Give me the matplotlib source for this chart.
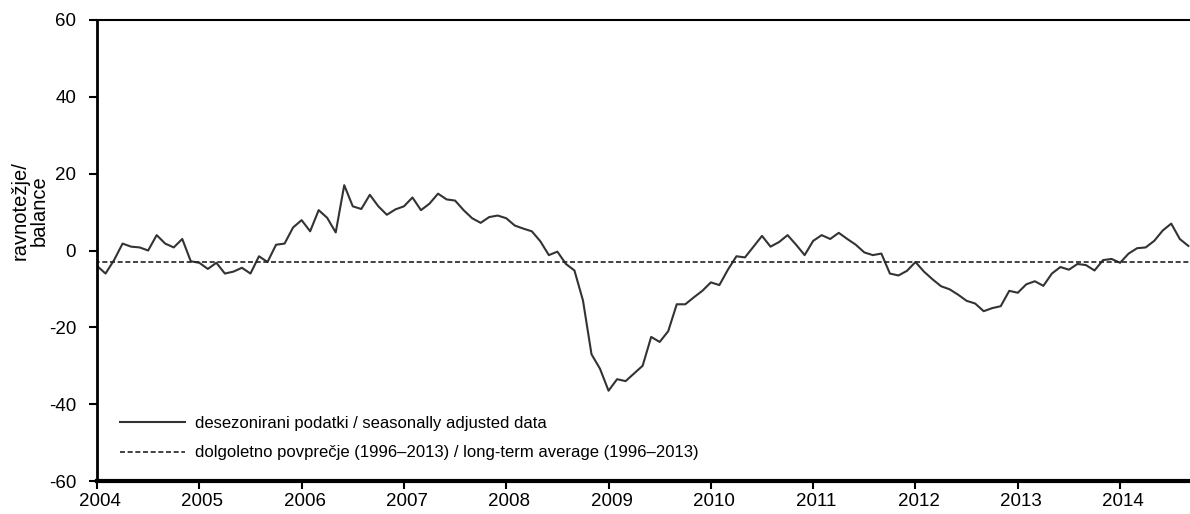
import matplotlib as mpl
mpl.use('Agg')
import matplotlib.pyplot as plt
import matplotlib.transforms as mtransforms
import numpy as np

plt.rcParams['font.family'] = ['Liberation Sans', 'DejaVu Sans']
plt.rcParams['axes.unicode_minus'] = False

# monthly balance, Jan 2004 - Sep 2014
balance = [
    -4.0, -6.0, -2.5, 1.8, 1.0, 0.8, 0.0, 4.0, 1.8, 0.8, 3.0, -2.8,      # 2004
    -3.2, -4.8, -3.2, -6.0, -5.5, -4.5, -6.0, -1.5, -3.0, 1.5, 1.8, 6.0,  # 2005
    7.9, 5.0, 10.5, 8.5, 4.7, 17.0, 11.5, 10.8, 14.5, 11.5, 9.3, 10.7,    # 2006
    11.5, 13.8, 10.5, 12.2, 14.8, 13.3, 13.0, 10.5, 8.4, 7.2, 8.7, 9.1,   # 2007
    8.4, 6.5, 5.7, 5.0, 2.4, -1.2, -0.3, -3.5, -5.2, -13.0, -27.0, -30.8, # 2008
    -36.5, -33.5, -34.0, -32.0, -30.0, -22.5, -23.8, -21.0, -14.0, -14.0, -12.2, -10.5,  # 2009
    -8.3, -9.0, -5.0, -1.5, -1.8, 1.0, 3.8, 1.0, 2.2, 4.0, 1.5, -1.2,     # 2010
    2.5, 4.0, 3.0, 4.6, 3.0, 1.5, -0.5, -1.2, -0.8, -6.0, -6.5, -5.3,     # 2011
    -3.0, -5.5, -7.5, -9.3, -10.1, -11.5, -13.1, -13.8, -15.8, -15.0, -14.5, -10.5,  # 2012
    -11.0, -8.8, -8.0, -9.2, -6.0, -4.3, -5.0, -3.5, -3.8, -5.2, -2.5, -2.2,  # 2013
    -3.2, -0.8, 0.6, 0.8, 2.5, 5.2, 7.0, 3.0, 1.2,                        # 2014
]
long_term_avg = -3.0
years = list(range(2004, 2015))
yticks = [-60, -40, -20, 0, 20, 40, 60]

t = 2004 + np.arange(len(balance)) / 12.0

fig = plt.figure(figsize=(11.9, 5.14), dpi=100)
ax = fig.add_axes([97 / 1190, 1 - 481 / 514, 1 - 97 / 1190, (481 - 20) / 514])

ax.plot(t, balance, color='#333333', linewidth=1.5,
        label='desezonirani podatki / seasonally adjusted data')
ax.plot([2003.9, 2015], [long_term_avg, long_term_avg], color='#222222', linewidth=1.2,
        linestyle=(0, (3, 1.6)),
        label='dolgoletno povprečje (1996–2013) / long-term average (1996–2013)')

ax.set_xlim(2004, 2004 + 128.2 / 12)
ax.set_ylim(-60, 60)
ax.set_xticks(years)
ax.set_xticklabels([str(y) for y in years])
ax.set_yticks(yticks)
ax.tick_params(axis='both', labelsize=13.5, direction='out', length=6, width=1.5, color='black')
ax.tick_params(axis='y', pad=9)
ax.tick_params(axis='x', pad=3)

# year labels sit a little right of their ticks in the original
shift = mtransforms.ScaledTranslation(3 / 100, 0, fig.dpi_scale_trans)
for lab in ax.get_xticklabels():
    lab.set_transform(lab.get_transform() + shift)

ax.spines['right'].set_visible(False)
ax.spines['top'].set_linewidth(1.5)
ax.spines['left'].set_linewidth(2)
ax.spines['bottom'].set_linewidth(3)

fig.text(30 / 1190, 1 - 211 / 514, 'ravnotežje/\nbalance', rotation=90,
         ha='center', va='center', fontsize=14.5, linespacing=1.0)

ax.legend(loc='lower left', bbox_to_anchor=(0.007, 0.012), frameon=False,
          fontsize=12, handlelength=3.9, handletextpad=0.6, labelspacing=0.86)

plt.savefig('out.png', dpi=100)
